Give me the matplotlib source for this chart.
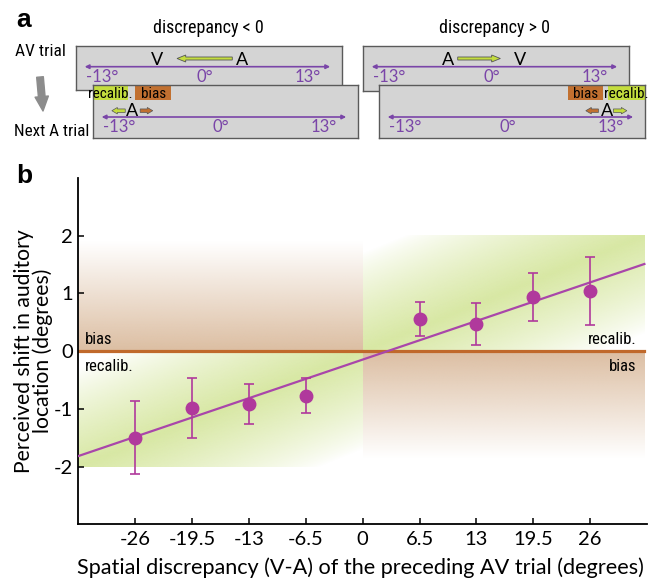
import matplotlib
matplotlib.use("Agg")
import matplotlib.pyplot as plt
import numpy as np
from matplotlib import font_manager as fm
from matplotlib.colors import to_rgb
from matplotlib.patches import Rectangle

W, H = 658, 583

# ─── PANEL B DATA ────────────────────────────────────────────────────────────
DISCREPANCY = [-26, -19.5, -13, -6.5, 6.5, 13, 19.5, 26]
SHIFT       = [-1.50, -0.99, -0.92, -0.77, 0.56, 0.47, 0.94, 1.04]
SHIFT_ERR   = [0.63, 0.52, 0.35, 0.30, 0.30, 0.36, 0.41, 0.59]
XTICKS       = [-26, -19.5, -13, -6.5, 0, 6.5, 13, 19.5, 26]
XTICK_LABELS = ["-26", "-19.5", "-13", "-6.5", "0", "6.5", "13", "19.5", "26"]
YTICKS       = [-2, -1, 0, 1, 2]
YTICK_LABELS = ["-2", "-1", "0", "1", "2"]

# ─── PANEL A SCHEMATIC (degrees along each box's scale) ─────────────────────
SCALE_DEG    = [-13, 0, 13]
SCALE_LABELS = ["-13°", "0°", "13°"]
CONDITIONS   = ["neg", "pos"]
TITLES       = {"neg": "discrepancy < 0", "pos": "discrepancy > 0"}
AV_V         = {"neg": -6.0, "pos": 3.6}
AV_A         = {"neg": 4.7, "pos": -5.5}
NEXT_A       = {"neg": -11.4, "pos": 12.6}

PURPLE   = "#7a45a8"
MAGENTA  = "#b0399c"
FITLINE  = "#a946aa"
ORANGE   = "#c0692b"
GREEN_LB = "#c4dd3e"
BROWN_LB = "#c17030"
BROWN_SH = "#dcbea2"
GREEN_SH = "#d8e8a4"
BOX_FC   = "#d4d4d4"
BOX_EC   = "#5a5a5a"

names = {f.name for f in fm.fontManager.ttflist}
MAIN = "Lato" if "Lato" in names else "DejaVu Sans"
NARROW = MAIN
for cand in ["Liberation Sans Narrow", "Roboto Condensed", "Open Sans Condensed"]:
    if cand in names:
        NARROW = cand
        break
plt.rcParams["font.family"] = [MAIN, "DejaVu Sans"]

fig = plt.figure(figsize=(W / 100, H / 100), dpi=100)

# ─── PANEL B ─────────────────────────────────────────────────────────────────
ax = fig.add_axes([78.3 / W, 1 - 524.3 / H, (647 - 78.3) / W, (524.3 - 178) / H])
X0, X1 = -32.5, 32.5
XR = 32.2


def shade(color, x0, x1, y0, y1, kind):
    n = 200
    u, v = np.meshgrid(np.linspace(0, 1, n), np.linspace(0, 1, n))
    if kind == "diag":
        w = np.clip(1 - np.abs(u - v) / 0.85, 0, 1) ** 0.8
    elif kind == "up":      # strongest at bottom edge (y=0)
        w = np.clip(1 - v / 0.95, 0, 1)
    else:                   # strongest at top edge (y=0)
        w = np.clip(1 - (1 - v) / 0.95, 0, 1)
    rgba = np.zeros((n, n, 4))
    rgba[..., :3] = to_rgb(color)
    rgba[..., 3] = w
    ax.imshow(rgba, extent=[x0, x1, y0, y1], origin="lower", aspect="auto",
              interpolation="bilinear", zorder=0)


shade(BROWN_SH, X0, 0, 0, 2, "up")
shade(BROWN_SH, 0, XR, -1.95, 0, "down")
shade(GREEN_SH, X0, 0, -2, 0, "diag")
shade(GREEN_SH, 0, XR, 0, 2, "diag")

ax.axhline(0, color=ORANGE, lw=2.3, xmax=(XR - X0) / (X1 - X0), zorder=2)

m, b = np.polyfit(DISCREPANCY, SHIFT, 1)
xr = np.array([X0, XR])
ax.plot(xr, m * xr + b, color=FITLINE, lw=1.6, zorder=3)

ax.errorbar(DISCREPANCY, SHIFT, yerr=SHIFT_ERR, fmt="o", ms=9, color=MAGENTA,
            ecolor=MAGENTA, elinewidth=1.2, capsize=3.3, capthick=1.2, zorder=4)

ax.text(-31.7, 0.2, "bias", ha="left", va="center", fontsize=12, family=NARROW)
ax.text(-31.7, -0.27, "recalib.", ha="left", va="center", fontsize=12, family=NARROW)
ax.text(31.3, 0.2, "recalib.", ha="right", va="center", fontsize=12, family=NARROW)
ax.text(31.3, -0.27, "bias", ha="right", va="center", fontsize=12, family=NARROW)

ax.set_xlim(X0, X1)
ax.set_ylim(-3, 3)
ax.set_xticks(XTICKS)
ax.set_xticklabels(XTICK_LABELS)
ax.set_yticks(YTICKS)
ax.set_yticklabels(YTICK_LABELS)
ax.tick_params(direction="in", length=4.5, width=1.1, labelsize=14.5)
ax.tick_params(axis="x", pad=5)
ax.tick_params(axis="y", pad=3.8)
for s in ["top", "right"]:
    ax.spines[s].set_visible(False)
for s in ["left", "bottom"]:
    ax.spines[s].set_linewidth(1.3)
ax.set_facecolor("none")

ax.set_xlabel("Spatial discrepancy (V-A) of the preceding AV trial (degrees)",
              fontsize=15.6, va="center")
ax.xaxis.set_label_coords((360 - 78.3) / 568.7, -(568 - 524.3) / 346.3)
ax.set_ylabel("Perceived shift in auditory\nlocation (degrees)", fontsize=15.2,
              va="center", linespacing=0.92)
ax.yaxis.set_label_coords(-(78.3 - 33.5) / 568.7, 0.5)

# ─── PANEL A ─────────────────────────────────────────────────────────────────
ov = fig.add_axes([0, 0, 1, 1])
ov.set_xlim(0, W)
ov.set_ylim(H, 0)
ov.axis("off")

fig.text(16 / W, 1 - 26.7 / H, "a", weight="bold", fontsize=19, va="baseline",
         family=["Liberation Sans", "DejaVu Sans"])
fig.text(16 / W, 1 - 183.3 / H, "b", weight="bold", fontsize=19, va="baseline",
         family=["Liberation Sans", "DejaVu Sans"])
fig.text(15 / W, 1 - 52 / H, "AV trial", fontsize=12.5, va="center", family=NARROW)
fig.text(14 / W, 1 - 132 / H, "Next A trial", fontsize=12.3, va="center", family=NARROW)
ov.annotate("", xy=(43, 111), xytext=(40, 77),
            arrowprops=dict(arrowstyle="simple,head_width=1.2,head_length=1.3,tail_width=0.6",
                            color="#8c8c8c", mutation_scale=8, shrinkA=0, shrinkB=0))

TITLE_X = {"neg": 208, "pos": 495}
for c in CONDITIONS:
    fig.text(TITLE_X[c] / W, 1 - 28 / H, TITLES[c], ha="center", va="center",
             fontsize=13, family=NARROW)


def box_axes(x0, y0, w, h):
    bx = fig.add_axes([x0 / W, 1 - (y0 + h) / H, w / W, h / H])
    bx.set_xlim(-16.3, 17.4)
    bx.set_ylim(h, 0)
    bx.set_facecolor(BOX_FC)
    bx.set_xticks([])
    bx.set_yticks([])
    for s in bx.spines.values():
        s.set_color(BOX_EC)
        s.set_linewidth(1.0)
    return bx


def scale(bx, yl, ylab):
    bx.annotate("", xy=(15.9, yl), xytext=(-15.2, yl),
                arrowprops=dict(arrowstyle="<|-|>", color=PURPLE, lw=1.2,
                                mutation_scale=6, shrinkA=0, shrinkB=0))
    for d, lab in zip(SCALE_DEG, SCALE_LABELS):
        bx.text(d, ylab, lab, ha="center", va="center", color=PURPLE, fontsize=12)


TOP_BOX = {"neg": (76, 46, 266, 44), "pos": (363, 46, 266, 45)}
BOT_BOX = {"neg": (93, 85, 265, 53), "pos": (379, 85, 266, 53)}

for c in CONDITIONS:
    bx = box_axes(*TOP_BOX[c])
    scale(bx, 20.7, 31.5)
    v, a = AV_V[c], AV_A[c]
    sgn = np.sign(v - a)
    start = a + sgn * 1.2
    tip = v - sgn * 2.5
    bx.arrow(start, 12.5, tip - start, 0, width=3, head_width=7, head_length=1.1,
             length_includes_head=True, fc=GREEN_LB, ec="#555555", lw=0.6)
    bx.text(v, 14, "V", ha="center", va="center", fontsize=13)
    bx.text(a, 14, "A", ha="center", va="center", fontsize=13)

for c in CONDITIONS:
    bx = box_axes(*BOT_BOX[c])
    scale(bx, 32, 41.5)
    a = NEXT_A[c]
    sgn = np.sign(AV_V[c] - AV_A[c])
    g0 = a + sgn * 0.8
    o0 = a - sgn * 1.1
    bx.arrow(g0, 25.7, sgn * 1.7, 0, width=3.5, head_width=6.5, head_length=0.7,
             length_includes_head=True, fc=GREEN_LB, ec="#555555", lw=0.5)
    bx.arrow(o0, 25.7, -sgn * 1.6, 0, width=3.5, head_width=6.5, head_length=0.7,
             length_includes_head=True, fc=BROWN_LB, ec="#555555", lw=0.5)
    bx.text(a, 26, "A", ha="center", va="center", fontsize=13)
    if c == "neg":
        spans = [("recalib.", GREEN_LB, -16.3, -11.9), ("bias", BROWN_LB, -10.9, -6.4)]
    else:
        spans = [("bias", BROWN_LB, 7.6, 12.1), ("recalib.", GREEN_LB, 12.7, 17.4)]
    for lab, col, l0, l1 in spans:
        bx.add_patch(Rectangle((l0, 1), l1 - l0, 14, fc=col, ec="none"))
        bx.text((l0 + l1) / 2, 8.5, lab, ha="center", va="center", fontsize=11,
                family=NARROW)

fig.savefig("out.png", dpi=100)
